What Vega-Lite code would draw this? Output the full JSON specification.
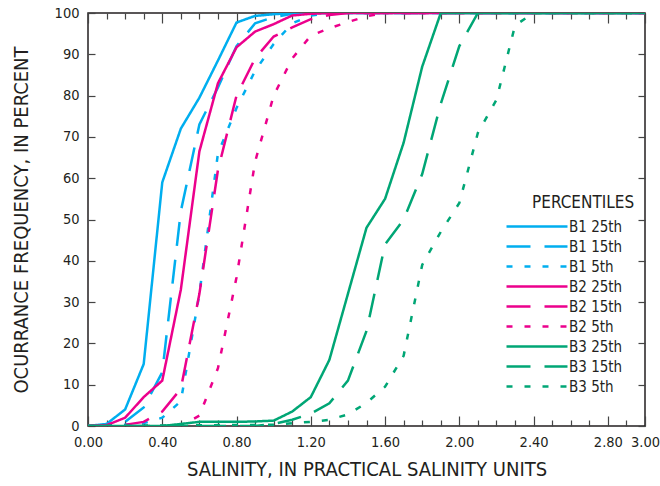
{
  "$schema": "https://vega.github.io/schema/vega-lite/v6.json",
  "width": 557,
  "height": 413,
  "autosize": "none",
  "padding": {"left": 88, "top": 13, "right": 15, "bottom": 60},
  "config": {
    "font": "Liberation Sans Narrow, DejaVu Sans Condensed, sans-serif",
    "view": {"stroke": "#231f20", "strokeWidth": 1.5},
    "axis": {"grid": false, "domain": false, "tickColor": "#444", "tickWidth": 1.2, "labelColor": "#231f20", "titleColor": "#231f20", "labelFontSize": 14.5, "titleFontSize": 20, "titleFontWeight": "normal"}
  },
  "datasets": {
    "curves": [
      {"series": "B1 25th", "x": 0, "y": 0}, {"series": "B1 25th", "x": 0.1, "y": 0.5}, {"series": "B1 25th", "x": 0.2, "y": 4}, {"series": "B1 25th", "x": 0.3, "y": 15}, {"series": "B1 25th", "x": 0.4, "y": 59}, {"series": "B1 25th", "x": 0.5, "y": 72}, {"series": "B1 25th", "x": 0.6, "y": 79.5}, {"series": "B1 25th", "x": 0.7, "y": 88.5}, {"series": "B1 25th", "x": 0.8, "y": 97.7}, {"series": "B1 25th", "x": 0.9, "y": 99.3}, {"series": "B1 25th", "x": 1.0, "y": 99.7}, {"series": "B1 25th", "x": 1.1, "y": 100}, {"series": "B1 25th", "x": 3.0, "y": 100},
      {"series": "B1 15th", "x": 0, "y": 0}, {"series": "B1 15th", "x": 0.1, "y": 0.2}, {"series": "B1 15th", "x": 0.2, "y": 1}, {"series": "B1 15th", "x": 0.3, "y": 4.5}, {"series": "B1 15th", "x": 0.4, "y": 13}, {"series": "B1 15th", "x": 0.5, "y": 52}, {"series": "B1 15th", "x": 0.6, "y": 73}, {"series": "B1 15th", "x": 0.7, "y": 82}, {"series": "B1 15th", "x": 0.8, "y": 92}, {"series": "B1 15th", "x": 0.9, "y": 97.5}, {"series": "B1 15th", "x": 1.0, "y": 99}, {"series": "B1 15th", "x": 1.1, "y": 99.8}, {"series": "B1 15th", "x": 1.2, "y": 100}, {"series": "B1 15th", "x": 3.0, "y": 100},
      {"series": "B1 5th", "x": 0, "y": 0}, {"series": "B1 5th", "x": 0.1, "y": 0}, {"series": "B1 5th", "x": 0.2, "y": 0.3}, {"series": "B1 5th", "x": 0.3, "y": 0.7}, {"series": "B1 5th", "x": 0.4, "y": 2}, {"series": "B1 5th", "x": 0.5, "y": 6}, {"series": "B1 5th", "x": 0.6, "y": 32}, {"series": "B1 5th", "x": 0.7, "y": 66}, {"series": "B1 5th", "x": 0.8, "y": 77}, {"series": "B1 5th", "x": 0.9, "y": 86}, {"series": "B1 5th", "x": 1.0, "y": 92.5}, {"series": "B1 5th", "x": 1.1, "y": 97.5}, {"series": "B1 5th", "x": 1.2, "y": 99.4}, {"series": "B1 5th", "x": 1.3, "y": 100}, {"series": "B1 5th", "x": 3.0, "y": 100},
      {"series": "B2 25th", "x": 0, "y": 0}, {"series": "B2 25th", "x": 0.1, "y": 0.2}, {"series": "B2 25th", "x": 0.2, "y": 2}, {"series": "B2 25th", "x": 0.3, "y": 7}, {"series": "B2 25th", "x": 0.4, "y": 11}, {"series": "B2 25th", "x": 0.5, "y": 33}, {"series": "B2 25th", "x": 0.6, "y": 66.5}, {"series": "B2 25th", "x": 0.7, "y": 83}, {"series": "B2 25th", "x": 0.8, "y": 91.7}, {"series": "B2 25th", "x": 0.9, "y": 95.5}, {"series": "B2 25th", "x": 1.0, "y": 97.3}, {"series": "B2 25th", "x": 1.1, "y": 99.4}, {"series": "B2 25th", "x": 1.2, "y": 99.8}, {"series": "B2 25th", "x": 1.3, "y": 100}, {"series": "B2 25th", "x": 3.0, "y": 100},
      {"series": "B2 15th", "x": 0, "y": 0}, {"series": "B2 15th", "x": 0.1, "y": 0}, {"series": "B2 15th", "x": 0.2, "y": 0.3}, {"series": "B2 15th", "x": 0.3, "y": 1}, {"series": "B2 15th", "x": 0.4, "y": 3.5}, {"series": "B2 15th", "x": 0.5, "y": 9}, {"series": "B2 15th", "x": 0.6, "y": 32}, {"series": "B2 15th", "x": 0.7, "y": 62}, {"series": "B2 15th", "x": 0.8, "y": 80}, {"series": "B2 15th", "x": 0.9, "y": 89}, {"series": "B2 15th", "x": 1.0, "y": 94.3}, {"series": "B2 15th", "x": 1.1, "y": 96.5}, {"series": "B2 15th", "x": 1.2, "y": 98.5}, {"series": "B2 15th", "x": 1.3, "y": 99.5}, {"series": "B2 15th", "x": 1.4, "y": 100}, {"series": "B2 15th", "x": 3.0, "y": 100},
      {"series": "B2 5th", "x": 0, "y": 0}, {"series": "B2 5th", "x": 0.5, "y": 0}, {"series": "B2 5th", "x": 0.6, "y": 2.5}, {"series": "B2 5th", "x": 0.7, "y": 14}, {"series": "B2 5th", "x": 0.8, "y": 36}, {"series": "B2 5th", "x": 0.9, "y": 64}, {"series": "B2 5th", "x": 1.0, "y": 80}, {"series": "B2 5th", "x": 1.1, "y": 89}, {"series": "B2 5th", "x": 1.2, "y": 94.5}, {"series": "B2 5th", "x": 1.3, "y": 96.3}, {"series": "B2 5th", "x": 1.4, "y": 97.8}, {"series": "B2 5th", "x": 1.5, "y": 99.2}, {"series": "B2 5th", "x": 1.6, "y": 100}, {"series": "B2 5th", "x": 3.0, "y": 100},
      {"series": "B3 25th", "x": 0, "y": 0}, {"series": "B3 25th", "x": 0.4, "y": 0}, {"series": "B3 25th", "x": 0.5, "y": 0.5}, {"series": "B3 25th", "x": 0.6, "y": 1}, {"series": "B3 25th", "x": 0.7, "y": 1}, {"series": "B3 25th", "x": 0.8, "y": 1}, {"series": "B3 25th", "x": 0.9, "y": 1.1}, {"series": "B3 25th", "x": 1.0, "y": 1.3}, {"series": "B3 25th", "x": 1.1, "y": 3.5}, {"series": "B3 25th", "x": 1.2, "y": 7}, {"series": "B3 25th", "x": 1.3, "y": 16}, {"series": "B3 25th", "x": 1.4, "y": 32}, {"series": "B3 25th", "x": 1.5, "y": 48}, {"series": "B3 25th", "x": 1.6, "y": 55}, {"series": "B3 25th", "x": 1.7, "y": 68.6}, {"series": "B3 25th", "x": 1.8, "y": 87}, {"series": "B3 25th", "x": 1.9, "y": 100}, {"series": "B3 25th", "x": 3.0, "y": 100},
      {"series": "B3 15th", "x": 0, "y": 0}, {"series": "B3 15th", "x": 0.9, "y": 0}, {"series": "B3 15th", "x": 1.0, "y": 0.5}, {"series": "B3 15th", "x": 1.1, "y": 1.5}, {"series": "B3 15th", "x": 1.2, "y": 3}, {"series": "B3 15th", "x": 1.3, "y": 5.5}, {"series": "B3 15th", "x": 1.4, "y": 11}, {"series": "B3 15th", "x": 1.5, "y": 23}, {"series": "B3 15th", "x": 1.6, "y": 44}, {"series": "B3 15th", "x": 1.7, "y": 50}, {"series": "B3 15th", "x": 1.8, "y": 61}, {"series": "B3 15th", "x": 1.9, "y": 78}, {"series": "B3 15th", "x": 2.0, "y": 92}, {"series": "B3 15th", "x": 2.1, "y": 100}, {"series": "B3 15th", "x": 3.0, "y": 100},
      {"series": "B3 5th", "x": 0, "y": 0}, {"series": "B3 5th", "x": 1.0, "y": 0.3}, {"series": "B3 5th", "x": 1.1, "y": 0.7}, {"series": "B3 5th", "x": 1.2, "y": 1}, {"series": "B3 5th", "x": 1.3, "y": 1.5}, {"series": "B3 5th", "x": 1.4, "y": 2.8}, {"series": "B3 5th", "x": 1.5, "y": 5.6}, {"series": "B3 5th", "x": 1.6, "y": 9.5}, {"series": "B3 5th", "x": 1.7, "y": 17}, {"series": "B3 5th", "x": 1.8, "y": 39}, {"series": "B3 5th", "x": 1.9, "y": 47}, {"series": "B3 5th", "x": 2.0, "y": 54}, {"series": "B3 5th", "x": 2.1, "y": 71}, {"series": "B3 5th", "x": 2.2, "y": 79}, {"series": "B3 5th", "x": 2.3, "y": 97}, {"series": "B3 5th", "x": 2.4, "y": 100}, {"series": "B3 5th", "x": 3.0, "y": 100}
    ]
  },
  "data": {"name": "curves"},
  "resolve": {"axis": {"x": "independent", "y": "independent"}},
  "layer": [
    {
      "mark": {"type": "line", "strokeWidth": 2.5, "clip": true},
      "encoding": {
        "x": {
          "field": "x", "type": "quantitative",
          "scale": {"domain": [0, 3], "nice": false, "zero": false},
          "axis": {
            "orient": "bottom",
            "title": "SALINITY, IN PRACTICAL SALINITY UNITS",
            "titlePadding": 7,
            "values": [0, 0.1, 0.2, 0.3, 0.4, 0.5, 0.6, 0.7, 0.8, 0.9, 1.0, 1.1, 1.2, 1.3, 1.4, 1.5, 1.6, 1.7, 1.8, 1.9, 2.0, 2.1, 2.2, 2.3, 2.4, 2.5, 2.6, 2.7, 2.8, 2.9, 3.0],
            "labelExpr": "indexof([0, 0.4, 0.8, 1.2, 1.6, 2, 2.4, 2.8, 3], datum.value) >= 0 ? format(datum.value, '.2f') : ''",
            "labelOverlap": false,
            "labelFlush": false,
            "tickSize": {"condition": {"test": "indexof([0, 0.4, 0.8, 1.2, 1.6, 2, 2.4, 2.8, 3], datum.value) >= 0", "value": -10}, "value": -6},
            "labelPadding": 19
          }
        },
        "y": {
          "field": "y", "type": "quantitative",
          "scale": {"domain": [0, 100], "nice": false},
          "axis": {
            "orient": "left",
            "title": "OCURRANCE FREQUENCY, IN PERCENT",
            "values": [0, 10, 20, 30, 40, 50, 60, 70, 80, 90, 100],
            "tickSize": -7,
            "labelPadding": 16,
            "titlePadding": 23
          }
        },
        "color": {
          "field": "series", "type": "nominal",
          "scale": {
            "domain": ["B1 25th", "B1 15th", "B1 5th", "B2 25th", "B2 15th", "B2 5th", "B3 25th", "B3 15th", "B3 5th"],
            "range": ["#00aeef", "#00aeef", "#00aeef", "#ec008c", "#ec008c", "#ec008c", "#00a675", "#00a675", "#00a675"]
          },
          "legend": {
            "title": "PERCENTILES",
            "orient": "none",
            "legendX": 444,
            "legendY": 182,
            "titleFontSize": 17,
            "titleFontWeight": "normal",
            "titleColor": "#231f20",
            "titlePadding": 3,
            "labelFontSize": 15,
            "labelColor": "#231f20",
            "symbolType": "M-3.7,0H2.4",
            "symbolSize": 400,
            "symbolStrokeWidth": 2.5,
            "labelOffset": 14,
            "rowPadding": 0
          }
        },
        "strokeDash": {
          "field": "series", "type": "nominal",
          "scale": {
            "domain": ["B1 25th", "B1 15th", "B1 5th", "B2 25th", "B2 15th", "B2 5th", "B3 25th", "B3 15th", "B3 5th"],
            "range": [[1, 0], [24, 14], [6, 12], [1, 0], [24, 14], [6, 12], [1, 0], [24, 14], [6, 12]]
          }
        }
      }
    },
    {
      "mark": {"type": "point", "opacity": 0},
      "encoding": {
        "x": {
          "field": "x", "type": "quantitative",
          "axis": {
            "orient": "top",
            "title": null,
            "labels": false,
            "values": [0, 0.1, 0.2, 0.3, 0.4, 0.5, 0.6, 0.7, 0.8, 0.9, 1.0, 1.1, 1.2, 1.3, 1.4, 1.5, 1.6, 1.7, 1.8, 1.9, 2.0, 2.1, 2.2, 2.3, 2.4, 2.5, 2.6, 2.7, 2.8, 2.9, 3.0],
            "tickSize": {"condition": {"test": "indexof([0, 0.4, 0.8, 1.2, 1.6, 2, 2.4, 2.8, 3], datum.value) >= 0", "value": -10}, "value": -6}
          }
        },
        "y": {
          "field": "y", "type": "quantitative",
          "axis": {
            "orient": "right",
            "title": null,
            "labels": false,
            "values": [0, 10, 20, 30, 40, 50, 60, 70, 80, 90, 100],
            "tickSize": -7
          }
        }
      }
    }
  ]
}
